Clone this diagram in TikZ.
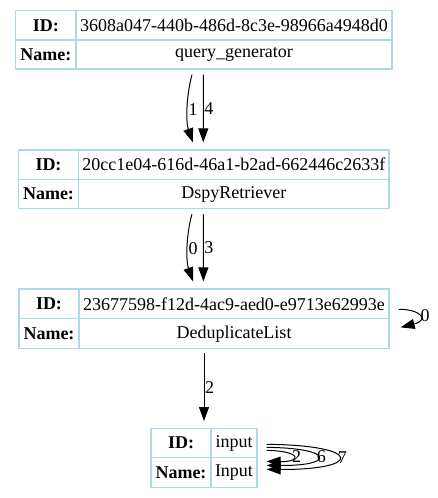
\documentclass[tikz,border=0pt]{standalone}
\usepackage{fontspec}
\setmainfont{Liberation Serif}
\usetikzlibrary{arrows.meta}
\definecolor{cellblue}{HTML}{ADD8E6}
\begin{document}
\begin{tikzpicture}[x=1pt,y=-1pt,
    cell/.style={draw=cellblue, line width=1.3pt, inner sep=0pt, font=\fontsize{18}{21}\selectfont},
    edge/.style={draw=black, line width=1pt, -{Triangle[length=14pt,width=10pt]}},
    elabel/.style={font=\fontsize{18}{21}\selectfont, inner sep=0.5pt, anchor=west}]
    \useasboundingbox (0,0) rectangle (438,498);

    % Tablas
    \foreach \t/\xa/\xb/\xc/\ya/\yb/\yc/\id/\name in {
        1/15.7/76/392/10.7/40/69/3608a047-440b-486d-8c3e-98966a4948d0/query\_generator,
        2/18.3/78.7/389/150/179.3/208.7/20cc1e04-616d-46a1-b2ad-662446c2633f/DspyRetriever,
        3/19/79/389/289/318.7/348.7/23677598-f12d-4ac9-aed0-e9713e62993e/DeduplicateList,
        4/151/211/257/428.3/457.7/487.7/input/Input
        } {
        \node[cell, minimum width={(\xb-\xa)*1pt}, minimum height={(\yb-\ya)*1pt}]
            (idkey\t) at ({(\xa+\xb)/2},{(\ya+\yb)/2}) {\textbf{ID:}};
        \node[cell, minimum width={(\xc-\xb)*1pt}, minimum height={(\yb-\ya)*1pt}]
            (idval\t) at ({(\xb+\xc)/2},{(\ya+\yb)/2}) {\id};
        \node[cell, minimum width={(\xb-\xa)*1pt}, minimum height={(\yc-\yb)*1pt}]
            (namekey\t) at ({(\xa+\xb)/2},{(\yb+\yc)/2}) {\textbf{Name:}};
        \node[cell, minimum width={(\xc-\xb)*1pt}, minimum height={(\yc-\yb)*1pt}]
            (nameval\t) at ({(\xb+\xc)/2},{(\yb+\yc)/2}) {\name};
    }

    % Aristas entre tablas
    \foreach \a/\b/\p/\q in {1/2/1/4, 2/3/0/3} {
        \draw[edge] ([shift={(-42,5)}]nameval\a.south)
            .. controls +(-6,22) and +(-7,-20) .. ([shift={(-41,-7)}]idval\b.north)
            node[elabel, pos=0.5] (lbl\a\p) {\p};
        \draw[edge] ([shift={(-30.6,5)}]nameval\a.south) -- ([shift={(-30.6,-7)}]idval\b.north)
            node[elabel, pos=0.5] (lbl\a\q) {\q};
    }
    \draw[edge] ([shift={(-30,4)}]nameval3.south) -- ([shift={(23,-6.6)}]idkey4.north)
        node[elabel, pos=0.5] (lbl32) {2};

    % Bucles
    \draw[edge] ([shift={(9,-8.7)}]nameval3.north east)
        .. controls (420,309) and (430,320) .. ([shift={(11,9.3)}]nameval3.north east)
        node[elabel, pos=0.5, xshift=1pt] (lbl30) {0};
    \foreach \s/\e/\c/\lab in {-6.7/4.3/302/2, -9.7/8.3/335/6, -12.7/12.3/363/7} {
        \draw[edge] ([shift={(9,\s)}]nameval4.north east)
            .. controls (\c,457.7+\s) and (\c,457.7+\e) .. ([shift={(9,\e)}]nameval4.north east)
            node[elabel, pos=0.5, xshift=-2pt] (lbl4\lab) {\lab};
    }
\end{tikzpicture}
\end{document}
